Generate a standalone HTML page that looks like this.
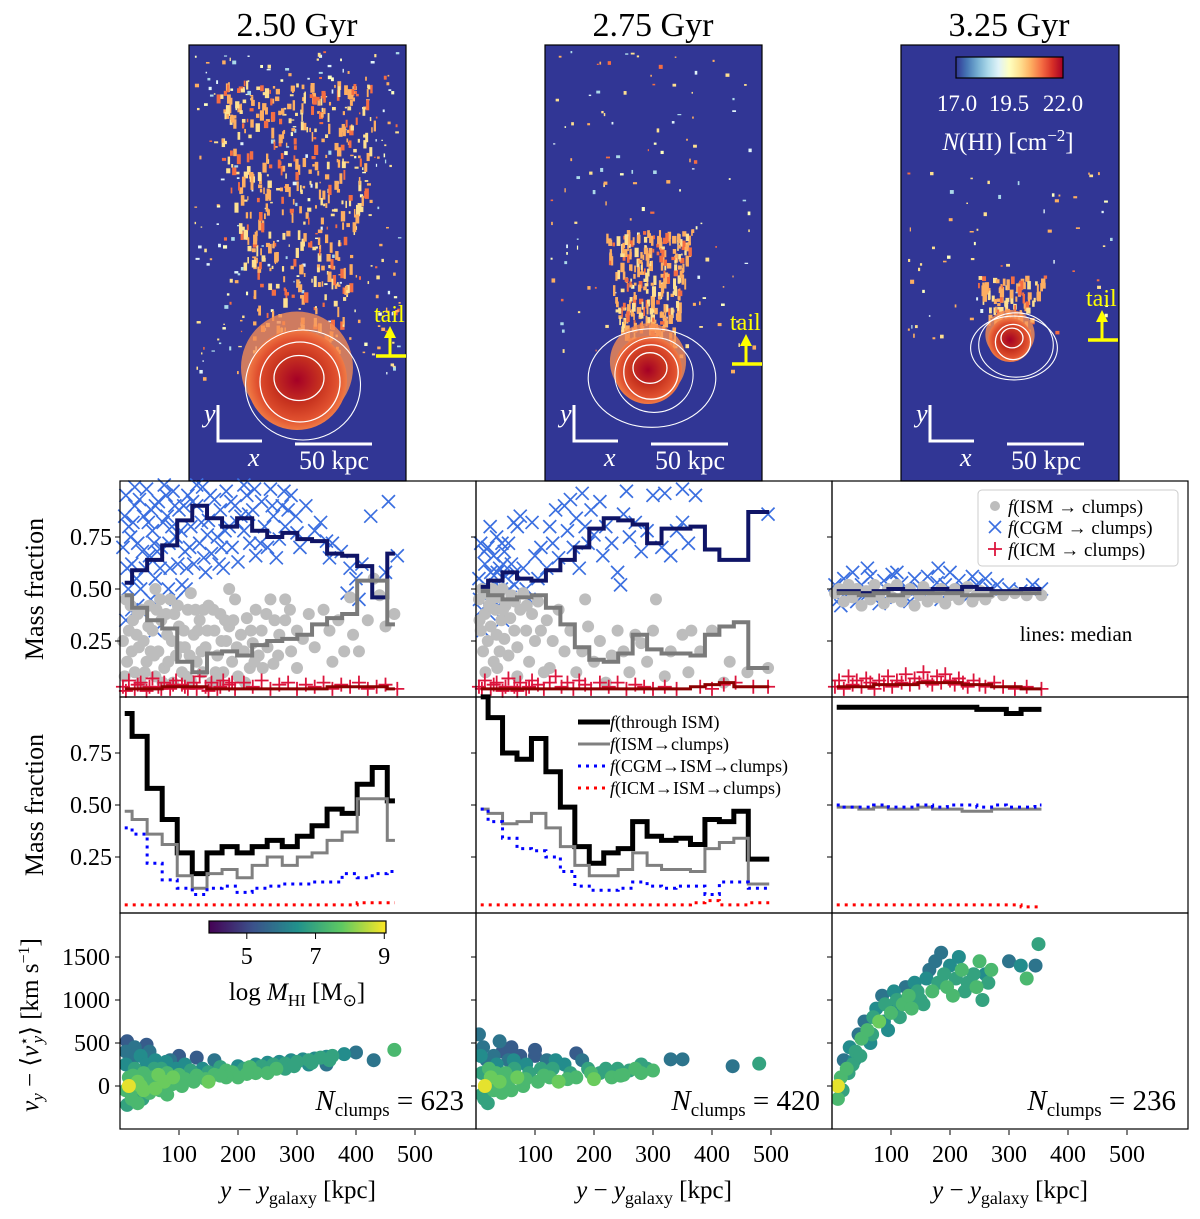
<!DOCTYPE html>
<html><head><meta charset="utf-8">
<style>
html,body{margin:0;padding:0;background:#fff;}
svg text{font-family:"Liberation Serif",serif;}
</style></head>
<body>
<svg id="fig" width="1200" height="1214" viewBox="0 0 1200 1214" xmlns="http://www.w3.org/2000/svg">
<defs>
<linearGradient id="rdylbu" x1="0" x2="1" y1="0" y2="0">
<stop offset="0" stop-color="#313695"/><stop offset="0.1" stop-color="#4575b4"/><stop offset="0.2" stop-color="#74add1"/><stop offset="0.3" stop-color="#abd9e9"/><stop offset="0.4" stop-color="#e0f3f8"/><stop offset="0.5" stop-color="#ffffbf"/><stop offset="0.6" stop-color="#fee090"/><stop offset="0.7" stop-color="#fdae61"/><stop offset="0.8" stop-color="#f46d43"/><stop offset="0.9" stop-color="#d73027"/><stop offset="1" stop-color="#a50026"/>
</linearGradient>
<linearGradient id="viridis" x1="0" x2="1" y1="0" y2="0">
<stop offset="0" stop-color="#440154"/><stop offset="0.25" stop-color="#3b528b"/><stop offset="0.5" stop-color="#21918c"/><stop offset="0.75" stop-color="#5ec962"/><stop offset="1" stop-color="#fde725"/>
</linearGradient>
<radialGradient id="disk">
<stop offset="0" stop-color="#a50026"/><stop offset="0.5" stop-color="#c8341f"/><stop offset="0.8" stop-color="#e0502f"/><stop offset="1" stop-color="#f07a45"/>
</radialGradient>
<clipPath id="clip0"><rect x="189" y="45" width="217" height="436"/></clipPath>
<clipPath id="clip1"><rect x="545" y="45" width="217" height="436"/></clipPath>
<clipPath id="clip2"><rect x="901" y="45" width="218" height="436"/></clipPath>
</defs>
</svg>
<script>
// ---------- DATA ----------
const binsC1 = [8,33,59,84,110,135,160,186,211,237,262,288,313,338,364,389,415,440,466];
const binsC2 = [8,33,57,82,106,131,155,180,204,229,253,278,302,327,351,376,400,425,449,474,497];
const binsC3 = [8,33,58,83,108,133,158,183,208,233,258,283,308,333,355];

const medCGM1 = [0.53,0.59,0.64,0.71,0.83,0.90,0.84,0.80,0.84,0.78,0.75,0.77,0.74,0.73,0.67,0.66,0.61,0.46,0.67];
const medISM1 = [0.47,0.41,0.35,0.31,0.15,0.10,0.19,0.20,0.18,0.23,0.25,0.26,0.28,0.33,0.36,0.38,0.54,0.54,0.33];
const medICM1 = [0.02,0.02,0.02,0.03,0.03,0.03,0.02,0.02,0.02,0.02,0.02,0.02,0.02,0.02,0.03,0.03,0.03,0.03,0.02];
const medCGM2 = [0.51,0.54,0.58,0.55,0.54,0.59,0.64,0.70,0.79,0.84,0.83,0.81,0.72,0.79,0.79,0.80,0.69,0.64,0.64,0.87,0.87];
const medISM2 = [0.49,0.47,0.45,0.46,0.47,0.41,0.33,0.22,0.16,0.15,0.19,0.28,0.21,0.19,0.19,0.18,0.28,0.32,0.34,0.12,0.12];
const medICM2 = [0.02,0.02,0.02,0.02,0.02,0.02,0.02,0.02,0.02,0.02,0.02,0.02,0.02,0.02,0.02,0.03,0.04,0.05,0.03,0.03,0.03];
const medCGM3 = [0.49,0.49,0.48,0.49,0.50,0.49,0.49,0.50,0.49,0.51,0.50,0.49,0.49,0.50,0.50];
const medISM3 = [0.48,0.48,0.47,0.48,0.47,0.48,0.48,0.48,0.48,0.47,0.47,0.48,0.48,0.48,0.48];
const medICM3 = [0.03,0.03,0.03,0.04,0.04,0.04,0.05,0.05,0.05,0.04,0.04,0.03,0.03,0.02,0.02];

const thru1 = [0.94,0.83,0.58,0.43,0.27,0.17,0.27,0.30,0.27,0.30,0.33,0.30,0.35,0.40,0.48,0.46,0.60,0.68,0.52];
const ism1  = [0.47,0.43,0.36,0.31,0.16,0.10,0.17,0.19,0.15,0.21,0.25,0.21,0.25,0.27,0.33,0.37,0.53,0.53,0.33];
const cgm1  = [0.39,0.36,0.22,0.14,0.10,0.07,0.10,0.11,0.08,0.10,0.11,0.12,0.12,0.13,0.13,0.17,0.15,0.17,0.18];
const icm1  = [0.02,0.02,0.02,0.02,0.02,0.02,0.02,0.02,0.02,0.02,0.02,0.02,0.02,0.02,0.02,0.02,0.03,0.03,0.03];
const thru2 = [1.02,0.92,0.75,0.72,0.82,0.66,0.49,0.30,0.22,0.27,0.29,0.42,0.35,0.33,0.34,0.31,0.43,0.42,0.47,0.24,0.24];
const ism2  = [0.48,0.46,0.41,0.42,0.46,0.39,0.30,0.21,0.16,0.16,0.19,0.27,0.21,0.19,0.19,0.18,0.29,0.32,0.34,0.12,0.12];
const cgm2  = [0.48,0.42,0.34,0.29,0.28,0.25,0.18,0.11,0.09,0.09,0.10,0.13,0.11,0.10,0.11,0.11,0.07,0.13,0.13,0.10,0.10];
const icm2  = [0.02,0.02,0.02,0.02,0.02,0.02,0.02,0.02,0.02,0.02,0.02,0.02,0.02,0.02,0.02,0.03,0.04,0.02,0.02,0.03,0.03];
const thru3 = [0.97,0.97,0.97,0.97,0.97,0.97,0.97,0.97,0.97,0.97,0.96,0.96,0.94,0.96,0.96];
const ism3  = [0.49,0.49,0.48,0.49,0.48,0.48,0.49,0.48,0.48,0.47,0.47,0.48,0.48,0.48,0.48];
const cgm3  = [0.50,0.49,0.49,0.50,0.49,0.49,0.50,0.49,0.50,0.50,0.49,0.50,0.49,0.49,0.50];
const icm3  = [0.02,0.02,0.02,0.02,0.02,0.02,0.02,0.02,0.02,0.02,0.02,0.02,0.02,0.01,0.01];

const ptsCGM1 = [[10,0.95],[15,0.8],[20,0.62],[25,0.9],[30,0.72],[35,0.5],[40,0.85],[45,0.98],[50,0.66],[55,0.78],[60,0.55],[65,0.92],[70,0.7],[75,0.45],[80,0.85],[85,0.6],[90,0.97],[95,0.75],[100,0.88],[105,0.52],[110,0.68],[115,0.95],[120,0.8],[125,0.62],[130,0.9],[135,0.72],[140,0.99],[145,0.58],[150,0.83],[155,0.67],[160,0.93],[165,0.75],[170,0.88],[175,0.6],[180,0.97],[185,0.8],[190,0.7],[195,0.9],[200,0.63],[205,0.85],[210,0.78],[215,0.95],[220,0.72],[225,0.88],[230,0.66],[240,0.92],[245,0.8],[250,0.7],[255,0.98],[260,0.85],[270,0.74],[275,0.9],[280,0.8],[290,0.95],[300,0.77],[305,0.7],[315,0.9],[330,0.78],[340,0.82],[350,0.73],[355,0.65],[360,0.72],[375,0.68],[390,0.6],[400,0.55],[385,0.48],[405,0.45],[410,0.62],[450,0.58],[470,0.66],[455,0.92],[425,0.85],[20,0.4],[40,0.38],[60,0.3],[10,0.35],[30,0.42],[95,0.45],[60,0.9],[25,0.99],[75,1.0],[130,1.0],[210,1.0],[12,0.6],[18,0.75],[28,0.55],[38,0.68],[48,0.82],[58,0.72],[68,0.6],[78,0.95],[88,0.8],[98,0.62],[108,0.9],[118,0.7],[148,0.76],[168,0.62],[188,0.92],[228,0.98],[265,0.65],[285,0.88],[5,0.7],[8,0.85],[14,0.5],[22,0.82],[33,0.93],[43,0.6],[53,0.88],[63,0.68],[73,0.82],[83,0.72],[93,0.9],[103,0.78],[113,0.6],[123,0.92],[138,0.82],[153,0.95],[178,0.78],[198,0.82],[218,0.86],[238,0.72],[258,0.9],[278,0.97],[298,0.85],[52,0.45],[82,0.5],[112,0.5],[142,0.65],[172,0.7]];
const ptsISM1 = [[10,0.45],[15,0.3],[20,0.2],[25,0.1],[30,0.38],[35,0.05],[40,0.25],[45,0.15],[50,0.42],[55,0.3],[60,0.08],[65,0.2],[70,0.35],[75,0.12],[80,0.28],[85,0.45],[90,0.05],[95,0.18],[100,0.32],[105,0.1],[110,0.22],[115,0.4],[120,0.06],[125,0.28],[130,0.15],[135,0.35],[140,0.1],[145,0.22],[150,0.42],[155,0.05],[160,0.3],[165,0.18],[170,0.38],[175,0.1],[180,0.25],[185,0.32],[190,0.15],[195,0.45],[200,0.08],[205,0.28],[210,0.2],[215,0.36],[220,0.12],[225,0.24],[230,0.4],[235,0.18],[240,0.3],[250,0.22],[255,0.45],[260,0.14],[270,0.28],[280,0.35],[290,0.2],[300,0.3],[310,0.26],[320,0.38],[330,0.22],[345,0.4],[355,0.3],[370,0.35],[380,0.2],[390,0.46],[395,0.28],[420,0.35],[430,0.55],[440,0.47],[450,0.32],[465,0.38],[185,0.5],[120,0.48],[60,0.5],[280,0.45],[12,0.15],[22,0.35],[32,0.22],[42,0.1],[52,0.2],[62,0.4],[72,0.05],[82,0.15],[92,0.38],[102,0.22],[112,0.08],[132,0.3],[142,0.4],[162,0.1],[172,0.25],[192,0.35],[212,0.05],[222,0.3],[242,0.12],[262,0.35],[300,0.12],[405,0.2],[360,0.15],[5,0.25],[8,0.08],[18,0.42],[28,0.28],[38,0.4],[48,0.32],[58,0.18],[68,0.45],[78,0.38],[88,0.25],[98,0.42],[108,0.3],[118,0.18],[128,0.4],[138,0.2],[148,0.3],[158,0.4],[168,0.05],[178,0.35],[198,0.22],[228,0.15],[248,0.38],[268,0.18],[288,0.4]];
const ptsICM1 = [[5,0.03],[15,0.06],[25,0.02],[35,0.05],[45,0.01],[55,0.07],[65,0.03],[75,0.05],[85,0.02],[95,0.06],[105,0.04],[115,0.02],[125,0.05],[135,0.08],[145,0.03],[155,0.05],[165,0.02],[175,0.06],[185,0.04],[195,0.02],[210,0.05],[225,0.03],[240,0.06],[255,0.02],[270,0.04],[285,0.05],[300,0.02],[315,0.04],[330,0.03],[345,0.05],[360,0.02],[375,0.04],[390,0.03],[405,0.05],[420,0.02],[435,0.03],[450,0.04],[470,0.02],[10,0.01],[30,0.04],[50,0.03],[70,0.02],[90,0.04],[110,0.03],[130,0.02],[150,0.01],[170,0.03],[190,0.05]];
const ptsCGM2 = [[5,0.55],[10,0.4],[12,0.3],[15,0.62],[18,0.48],[20,0.7],[22,0.38],[25,0.58],[28,0.45],[30,0.66],[33,0.52],[35,0.75],[38,0.42],[40,0.6],[43,0.5],[45,0.35],[48,0.68],[50,0.56],[55,0.72],[58,0.46],[60,0.62],[65,0.52],[70,0.8],[75,0.85],[80,0.6],[85,0.5],[90,0.45],[95,0.82],[100,0.66],[105,0.55],[110,0.7],[120,0.6],[125,0.8],[130,0.72],[135,0.88],[140,0.65],[150,0.9],[155,0.78],[160,0.93],[165,0.7],[170,0.84],[175,0.6],[180,0.96],[185,0.8],[190,0.72],[195,0.88],[200,0.76],[210,0.92],[215,0.66],[220,0.8],[230,0.72],[240,0.58],[245,0.52],[250,0.86],[255,0.97],[260,0.75],[270,0.82],[280,0.68],[290,0.78],[300,0.95],[315,0.7],[330,0.66],[340,0.78],[350,0.82],[360,0.72],[8,0.72],[14,0.68],[24,0.8],[44,0.72],[64,0.82],[350,0.98],[320,0.96],[372,0.95],[495,0.86],[6,0.45],[16,0.52],[26,0.48],[36,0.58],[46,0.62],[56,0.5],[66,0.58]];
const ptsISM2 = [[5,0.45],[8,0.3],[10,0.5],[12,0.2],[15,0.38],[18,0.48],[20,0.25],[22,0.42],[25,0.32],[28,0.5],[30,0.15],[33,0.4],[35,0.28],[38,0.46],[40,0.2],[43,0.35],[45,0.5],[48,0.26],[50,0.42],[55,0.18],[58,0.36],[60,0.47],[65,0.3],[70,0.22],[75,0.4],[80,0.48],[85,0.3],[90,0.15],[95,0.38],[100,0.25],[105,0.44],[110,0.3],[120,0.35],[125,0.12],[130,0.25],[140,0.4],[150,0.2],[160,0.3],[170,0.1],[180,0.2],[190,0.32],[200,0.15],[210,0.25],[220,0.05],[230,0.18],[240,0.3],[250,0.2],[260,0.1],[270,0.28],[280,0.24],[290,0.15],[300,0.3],[320,0.08],[330,0.2],[350,0.28],[360,0.1],[380,0.2],[400,0.3],[420,0.05],[430,0.15],[460,0.1],[495,0.12],[70,0.08],[115,0.1],[185,0.45],[305,0.45],[365,0.3],[6,0.35],[16,0.1],[26,0.45],[36,0.12],[46,0.4],[66,0.44],[86,0.42]];
const ptsICM2 = [[5,0.03],[15,0.06],[25,0.02],[35,0.05],[45,0.01],[55,0.07],[65,0.03],[75,0.05],[85,0.02],[95,0.06],[105,0.04],[115,0.02],[125,0.05],[135,0.08],[145,0.03],[155,0.05],[165,0.02],[175,0.06],[185,0.04],[195,0.02],[210,0.05],[225,0.03],[240,0.05],[255,0.02],[270,0.04],[285,0.03],[300,0.02],[320,0.03],[340,0.02],[380,0.03],[400,0.02],[420,0.04],[440,0.05],[470,0.03],[495,0.03],[10,0.02],[30,0.04],[50,0.03],[70,0.01],[90,0.03]];
const ptsCGM3 = [[5,0.52],[12,0.45],[20,0.55],[28,0.48],[35,0.58],[42,0.44],[50,0.52],[58,0.47],[65,0.56],[72,0.5],[80,0.43],[88,0.54],[95,0.49],[102,0.57],[110,0.46],[118,0.53],[125,0.5],[132,0.44],[140,0.55],[148,0.5],[155,0.47],[162,0.56],[170,0.49],[178,0.53],[185,0.45],[192,0.52],[200,0.58],[208,0.48],[215,0.54],[222,0.5],[230,0.46],[238,0.56],[245,0.52],[252,0.48],[260,0.55],[268,0.5],[280,0.52],[300,0.5],[320,0.49],[340,0.52],[355,0.5],[15,0.42],[60,0.6],[110,0.58],[180,0.6]];
const ptsISM3 = [[5,0.48],[12,0.5],[20,0.44],[28,0.52],[35,0.46],[42,0.5],[50,0.42],[58,0.49],[65,0.45],[72,0.52],[80,0.47],[88,0.43],[95,0.5],[102,0.46],[110,0.52],[118,0.44],[125,0.48],[132,0.5],[140,0.42],[148,0.47],[155,0.51],[162,0.44],[170,0.48],[178,0.46],[185,0.5],[192,0.43],[200,0.47],[208,0.5],[215,0.45],[222,0.48],[230,0.51],[238,0.44],[245,0.47],[252,0.49],[260,0.45],[268,0.48],[290,0.47],[310,0.48],[330,0.47],[355,0.47]];
const ptsICM3 = [[5,0.03],[12,0.06],[20,0.02],[28,0.08],[35,0.04],[42,0.06],[50,0.03],[58,0.07],[65,0.05],[72,0.02],[80,0.06],[88,0.04],[95,0.08],[102,0.03],[110,0.06],[118,0.05],[125,0.09],[132,0.04],[140,0.07],[148,0.05],[155,0.1],[162,0.06],[170,0.04],[178,0.08],[185,0.05],[192,0.09],[200,0.06],[208,0.04],[215,0.07],[222,0.05],[230,0.03],[240,0.06],[250,0.04],[260,0.03],[275,0.05],[290,0.03],[310,0.02],[330,0.03],[355,0.02]];

const vel1 = [[15,100,7.5],[15,0,9],[20,300,6],[20,-150,7.5],[25,450,6],[25,200,7],[30,50,8],[30,-100,7],[35,350,6.5],[40,150,7.5],[40,-50,8],[45,250,6.5],[50,400,6],[55,100,7.5],[60,-30,8],[60,300,6.5],[70,200,7],[75,50,8],[80,150,7.5],[90,100,8],[95,200,6.5],[100,130,7.5],[110,80,7.5],[120,180,7],[130,120,7.5],[140,200,6.5],[150,160,7],[160,130,7.5],[170,220,7],[180,180,7.5],[190,160,7.5],[200,230,6.5],[210,200,7],[220,220,7.5],[230,250,6.5],[240,230,7],[250,270,6.5],[260,250,7],[270,280,6.5],[280,260,7],[290,300,6.5],[300,280,7],[310,310,6.5],[320,300,7],[330,320,6.5],[340,330,7],[350,340,6.5],[360,350,7],[380,370,6.5],[400,390,6],[430,300,6],[465,420,7.5],[100,350,5.5],[130,330,5.5],[200,100,7.5],[250,150,7.5],[45,480,5.5],[12,520,5.5],[30,-200,7.5],[80,-100,7.5],[150,50,8],[350,250,6],[160,300,6],[10,250,6.5],[10,-50,7.5],[12,-220,7],[35,0,8],[50,-80,7.5],[65,130,8],[85,300,6],[110,250,6.5],[180,100,7.5],[230,150,7.5],[280,200,7],[320,250,6.5],[10,400,6],[18,-80,7.5],[22,120,7.5],[28,380,6],[38,-150,7],[48,30,7.5],[58,200,7],[68,-50,7.5],[78,280,6.5],[88,20,7.5],[105,0,7.5],[125,50,7.5],[145,80,7.5],[170,120,7.5],[195,150,7],[215,140,7.5],[245,190,7],[265,200,7.5],[295,230,7],[325,270,7],[355,300,7]];
const vel2 = [[10,150,7],[10,-100,7],[12,450,6],[15,0,9],[18,300,6],[20,-200,7],[22,200,7.5],[25,100,8],[30,350,6],[30,-50,7.5],[35,250,6.5],[40,50,8],[45,400,5.5],[50,150,7.5],[55,300,6],[60,-50,7.5],[65,200,7],[70,100,8],[75,350,5.5],[80,0,7.5],[85,250,6.5],[90,150,7],[100,350,5.5],[105,50,7.5],[110,200,7],[120,300,6],[125,100,7.5],[130,200,7],[140,50,8],[150,250,6.5],[160,150,7],[170,100,7.5],[180,300,6],[190,200,7],[200,80,8],[210,150,7],[220,200,7],[230,100,7.5],[240,200,7],[250,130,7.5],[260,180,7],[270,200,7.5],[280,250,7],[290,200,7],[300,180,7.5],[330,310,6],[350,310,6],[435,230,6],[480,260,7],[40,520,6],[60,450,5.5],[100,420,5.5],[170,380,5.5],[280,150,7.5],[5,600,6],[8,350,6.5],[14,-150,7],[24,0,7.5],[34,150,7.5],[44,-80,7.5],[54,50,7.5],[64,300,6.5],[84,80,7.5],[115,120,7.5],[135,300,6.5],[155,80,7.5],[195,150,7.5],[245,120,7.5]];
const vel3 = [[10,0,9],[10,-150,7.5],[15,100,7.5],[20,300,6],[25,200,7.5],[30,450,6.5],[40,400,7],[45,600,6],[50,550,7.5],[55,750,6],[60,650,7.5],[70,800,7],[75,900,6.5],[80,750,8],[85,1050,6],[90,950,7],[100,850,7.5],[105,1100,6.5],[110,1000,7],[120,950,7.5],[125,1150,6],[130,1050,7.5],[140,1200,6.5],[145,1100,7],[150,1000,7],[160,1250,6.5],[165,1350,6],[170,1100,7.5],[175,1450,6],[180,1200,7],[185,1550,6],[190,1300,7],[195,1150,7.5],[200,1400,6.5],[210,1250,7],[215,1500,6.5],[220,1350,7.5],[230,1200,7],[240,1300,7],[250,1450,7.5],[260,1300,6.5],[265,1200,7],[270,1350,7.5],[300,1450,6],[320,1400,6.5],[330,1250,7.5],[345,1400,6],[350,1650,7],[35,250,7],[65,500,6.5],[95,650,6.5],[115,800,7],[135,900,7.5],[155,950,7],[205,1050,7.5],[225,1100,7],[245,1150,7.5],[255,1000,7],[18,-50,7],[28,150,7],[38,300,6.5],[48,350,7],[68,600,7],[88,750,6.5],[108,900,6.5],[128,1000,7]];

// ---------- RENDER ----------
const svg = document.getElementById('fig');
const NS = 'http://www.w3.org/2000/svg';
function mk(tag, attrs, parent) {
  const e = document.createElementNS(NS, tag);
  for (const k in attrs) e.setAttribute(k, attrs[k]);
  (parent || svg).appendChild(e);
  return e;
}
function txt(x, y, s, size, attrs, parent) {
  const t = mk('text', Object.assign({x: x, y: y, 'font-size': size}, attrs || {}), parent);
  t.innerHTML = s;
  return t;
}
const colX0 = [120, 476, 832];
const colW = 356;
const kpcPx = 0.59;
function xScale(c, kpc) { return colX0[c] + kpc * kpcPx; }
function yFrac(row, v) { return (row === 0 ? 693 : 909) - v * 208; }
function yVel(v) { return 1086 - v * 0.086; }
const rowTop = [481, 697, 913];
const rowH = 216;

// ----- TOP IMAGES -----
let seed = 12345;
function rnd() { seed = (seed * 1103515245 + 12345) % 2147483648; return seed / 2147483648; }
const imgX = [189, 545, 901];
const speckCols = ['#fee090','#fdae61','#ffffbf','#e0f3f8','#fdae61','#abd9e9','#fee090','#f46d43'];
const titles = ['2.50 Gyr', '2.75 Gyr', '3.25 Gyr'];
const diskC = [[297, 380, 50], [648, 370, 34], [1010, 340, 22]];
const tailTop = [80, 230, 275];
const tailSpread = [85, 45, 35];
const speckTop = [50, 50, 170];
const nSpeck = [330, 130, 60];
for (let c = 0; c < 3; c++) {
  const g = mk('g', {'clip-path': 'url(#clip' + c + ')'});
  
  
  mk('rect', {x: imgX[c], y: 45, width: c === 2 ? 218 : 217, height: 436, fill: '#313695'}, g);
  const [cx, cy, r] = diskC[c];
  for (let i = 0; i < nSpeck[c]; i++) {
    const x = imgX[c] + 5 + rnd() * 205;
    const y = speckTop[c] + rnd() * (cy - speckTop[c]);
    const w = 1.2 + rnd() * 3, h = 1.2 + rnd() * 3;
    mk('rect', {x: x, y: y, width: w, height: h, fill: speckCols[Math.floor(rnd() * speckCols.length)]}, g);
  }
  const nT = [420, 320, 140][c];
  for (let i = 0; i < nT; i++) {
    const t = Math.pow(rnd(), 0.7);
    const y = cy - t * (cy - tailTop[c]);
    const spread = tailSpread[c] * (0.45 + 0.55 * t);
    const x = cx + (rnd() - 0.5) * 2 * spread;
    mk('rect', {x: x, y: y, width: 1.5 + rnd() * 3, height: 3 + rnd() * 8, fill: ['#fdae61','#fee090','#f46d43','#fdae61'][Math.floor(rnd() * 4)]}, g);
  }
  mk('circle', {cx: cx, cy: cy - r * 0.25, r: r * 1.12, fill: '#f68d52', opacity: 0.8}, g);
  mk('circle', {cx: cx, cy: cy, r: r, fill: 'url(#disk)'}, g);
  mk('ellipse', {cx: cx + 2, cy: cy - 2, rx: r * 0.5, ry: r * 0.45, fill: 'none', stroke: '#fff', 'stroke-width': 1.3}, g);
  mk('ellipse', {cx: cx + 3, cy: cy + 2, rx: r * 0.8, ry: r * 0.8, fill: 'none', stroke: '#fff', 'stroke-width': 1.3}, g);
  mk('ellipse', {cx: cx + 6, cy: cy + 5, rx: r * 1.15 + (c === 2 ? 12 : 0), ry: r * 1.1 + (c === 2 ? 8 : 0), fill: 'none', stroke: '#fff', 'stroke-width': 1.1}, g);
  if (c > 0) mk('ellipse', {cx: cx + 4, cy: cy + 8, rx: r * 1.7 + 6, ry: r * 1.45, fill: 'none', stroke: '#fff', 'stroke-width': 1.1}, g);
  const fr = mk('rect', {x: imgX[c], y: 45, width: c === 2 ? 218 : 217, height: 436, fill: 'none', stroke: '#000', 'stroke-width': 1.2});
  
  
  const tt = txt(imgX[c] + 108, 36, titles[c], 34, {'text-anchor': 'middle'});
  
  
  const ox = imgX[c] + 29;
  mk('path', {d: `M${ox} 405 V441 H${ox + 44}`, fill: 'none', stroke: '#fff', 'stroke-width': 3});
  txt(ox - 14, 422, 'y', 26, {fill: '#fff', 'font-style': 'italic'});
  txt(ox + 30, 466, 'x', 26, {fill: '#fff', 'font-style': 'italic'});
  mk('line', {x1: imgX[c] + 106, x2: imgX[c] + 183, y1: 444, y2: 444, stroke: '#fff', 'stroke-width': 3});
  const sb = txt(imgX[c] + 145, 469, '50 kpc', 26, {fill: '#fff', 'text-anchor': 'middle'});
  
  
  const ay = [356, 364, 340][c];
  const ax = imgX[c] + 201;
  mk('line', {x1: ax - 14, x2: ax + 16, y1: ay, y2: ay, stroke: '#ffff00', 'stroke-width': 3.5});
  mk('line', {x1: ax, x2: ax, y1: ay, y2: ay - 22, stroke: '#ffff00', 'stroke-width': 3});
  mk('path', {d: `M${ax - 6} ${ay - 18} L${ax} ${ay - 30} L${ax + 6} ${ay - 18} Z`, fill: '#ffff00'});
  const tl = txt(ax - 16, ay - 34, 'tail', 24, {fill: '#ffff00'});
  
  
}
const cb = mk('rect', {x: 956, y: 57, width: 107, height: 21, fill: 'url(#rdylbu)', stroke: '#000', 'stroke-width': 1.2});


txt(957, 111, '17.0', 23, {fill: '#fff', 'text-anchor': 'middle'});
txt(1009, 111, '19.5', 23, {fill: '#fff', 'text-anchor': 'middle'});
txt(1063, 111, '22.0', 23, {fill: '#fff', 'text-anchor': 'middle'});
const cbl = txt(1008, 150, '<tspan font-style="italic">N</tspan>(HI) [cm<tspan dy="-9" font-size="17">−2</tspan><tspan dy="9">]</tspan>', 25, {fill: '#fff', 'text-anchor': 'middle'});



// ----- PANEL GRID -----
function step(c, row, xs, vs, style) {
  let d = '';
  for (let i = 0; i < xs.length; i++) {
    const px = xScale(c, xs[i]);
    const py = yFrac(row, vs[i]);
    if (i === 0) d += `M${px} ${py}`;
    else {
      const mid = (xScale(c, xs[i - 1]) + px) / 2;
      d += ` H${mid} V${py}`;
    }
    if (i === xs.length - 1) d += ` H${px}`;
  }
  return mk('path', Object.assign({d: d, fill: 'none', 'stroke-linejoin': 'miter'}, style));
}
function cross(c, row, pts, name) {
  const g = mk('g', {stroke: '#3b6fe0', 'stroke-width': 1.7});
  
  
  for (const p of pts) {
    const x = xScale(c, p[0]), y = yFrac(row, p[1]);
    mk('path', {d: `M${x - 6.5} ${y - 6.5} L${x + 6.5} ${y + 6.5} M${x - 6.5} ${y + 6.5} L${x + 6.5} ${y - 6.5}`}, g);
  }
}
function dots(c, row, pts, name) {
  const g = mk('g', {fill: '#bdbdbd'});
  
  
  for (const p of pts) mk('circle', {cx: xScale(c, p[0]), cy: yFrac(row, p[1]), r: 6}, g);
}
function plus(c, row, pts, name) {
  const g = mk('g', {stroke: '#dc143c', 'stroke-width': 1.8});
  
  
  for (const p of pts) {
    const x = xScale(c, p[0]), y = yFrac(row, p[1]);
    mk('path', {d: `M${x - 7} ${y} H${x + 7} M${x} ${y - 7} V${y + 7}`}, g);
  }
}
const binsAll = [binsC1, binsC2, binsC3];
const rowA = [[ptsCGM1, ptsISM1, ptsICM1, medCGM1, medISM1, medICM1], [ptsCGM2, ptsISM2, ptsICM2, medCGM2, medISM2, medICM2], [ptsCGM3, ptsISM3, ptsICM3, medCGM3, medISM3, medICM3]];
const rowB = [[thru1, ism1, cgm1, icm1], [thru2, ism2, cgm2, icm2], [thru3, ism3, cgm3, icm3]];
const velAll = [vel1, vel2, vel3];
const nClumps = ['623', '420', '236'];
function viridis(m) {
  const stops = [[68,1,84],[59,82,139],[33,145,140],[94,201,98],[253,231,37]];
  let t = Math.max(0, Math.min(1, (m - 4) / 5.2)) * 4;
  const i = Math.min(3, Math.floor(t)), f = t - i;
  const a = stops[i], b = stops[i + 1];
  return `rgb(${Math.round(a[0] + (b[0] - a[0]) * f)},${Math.round(a[1] + (b[1] - a[1]) * f)},${Math.round(a[2] + (b[2] - a[2]) * f)})`;
}
for (let c = 0; c < 3; c++) {
  const b = binsAll[c];
  const [pc, pi, pm, mc, mi, mm] = rowA[c];
  const clip = mk('clipPath', {id: 'pc' + c});
  mk('rect', {x: colX0[c], y: 481, width: colW, height: 649}, clip);
  cross(c, 0, pc, 'cgm-clump-points-' + (c + 1));
  dots(c, 0, pi, 'ism-clump-points-' + (c + 1));
  plus(c, 0, pm, 'icm-clump-points-' + (c + 1));
  let l = step(c, 0, b, mc, {stroke: '#0f1466', 'stroke-width': 4});
  
  
  l = step(c, 0, b, mi, {stroke: '#7a7a7a', 'stroke-width': 4});
  
  
  l = step(c, 0, b, mm, {stroke: '#8b0000', 'stroke-width': 3});
  
  
  const [th, is, cg, ic] = rowB[c];
  l = step(c, 1, b, th, {stroke: '#000', 'stroke-width': 5, 'clip-path': 'url(#pc' + c + ')'});
  
  
  l = step(c, 1, b, is, {stroke: '#808080', 'stroke-width': 3});
  
  
  l = step(c, 1, b, cg, {stroke: '#0000ff', 'stroke-width': 3, 'stroke-dasharray': '3 5'});
  
  
  l = step(c, 1, b, ic, {stroke: '#ff0000', 'stroke-width': 3, 'stroke-dasharray': '3 5'});
  
  
  const g = mk('g', {'clip-path': 'url(#pc' + c + ')'});
  
  
  const sorted = velAll[c].slice().sort((p, q) => p[2] - q[2]);
  for (const p of sorted) {
    mk('circle', {cx: xScale(c, p[0]), cy: yVel(p[1]), r: 7, fill: viridis(p[2])}, g);
  }
  const nl = txt(colX0[c] + 344, 1110, '<tspan font-style="italic">N</tspan><tspan font-size="19" dy="6">clumps</tspan><tspan dy="-6"> = ' + nClumps[c] + '</tspan>', 29, {'text-anchor': 'end'});
  
  
  for (let r = 0; r < 3; r++) {
    const fr = mk('rect', {x: colX0[c], y: rowTop[r], width: colW, height: rowH, fill: 'none', stroke: '#000', 'stroke-width': 1.2});
    
    
  }
  const ft = [0.25, 0.5, 0.75];
  for (const r of [0, 1]) for (const v of ft) mk('line', {x1: colX0[c] - 5, x2: colX0[c], y1: yFrac(r, v), y2: yFrac(r, v), stroke: '#000', 'stroke-width': 1});
  for (const v of [0, 500, 1000, 1500]) mk('line', {x1: colX0[c] - 5, x2: colX0[c], y1: yVel(v), y2: yVel(v), stroke: '#000', 'stroke-width': 1});
  for (const k of [100, 200, 300, 400, 500]) {
    mk('line', {x1: xScale(c, k), x2: xScale(c, k), y1: 1130, y2: 1135, stroke: '#000', 'stroke-width': 1});
    const tl = txt(xScale(c, k), 1162, String(k), 24, {'text-anchor': 'middle'});
    
    
  }
  const xl = txt(colX0[c] + 178, 1198, '<tspan font-style="italic">y</tspan> − <tspan font-style="italic">y</tspan><tspan font-size="18" dy="6">galaxy</tspan><tspan dy="-6"> [kpc]</tspan>', 25, {'text-anchor': 'middle'});
  
  
}
const fracTicks = ['0.25', '0.50', '0.75'];
const fracVals = [0.25, 0.5, 0.75];
for (const r of [0, 1]) fracVals.forEach((v, i) => {
  const t = txt(112, yFrac(r, v) + 8, fracTicks[i], 24, {'text-anchor': 'end'});
  
  
});
const velTicks = [0, 500, 1000, 1500];
velTicks.forEach(v => {
  const t = txt(110, yVel(v) + 8, String(v), 24, {'text-anchor': 'end'});
  
  
});
let yt = txt(0, 0, 'Mass fraction', 26, {'text-anchor': 'middle', transform: 'translate(43,589) rotate(-90)'});


yt = txt(0, 0, 'Mass fraction', 26, {'text-anchor': 'middle', transform: 'translate(43,805) rotate(-90)'});


yt = txt(0, 0, '<tspan font-style="italic">v</tspan><tspan font-size="17" dy="5" font-style="italic">y</tspan><tspan dy="-5"> − ⟨</tspan><tspan font-style="italic">v</tspan><tspan font-size="15" dy="-9">⋆</tspan><tspan font-size="17" dy="14" dx="-7" font-style="italic">y</tspan><tspan dy="-5">⟩ [km s</tspan><tspan font-size="16" dy="-9">−1</tspan><tspan dy="9">]</tspan>', 25, {'text-anchor': 'middle', transform: 'translate(38,1025) rotate(-90)'});



const lg = mk('g', {});


mk('rect', {x: 978, y: 490, width: 200, height: 76, rx: 4, fill: '#fff', stroke: '#ccc'}, lg);
mk('circle', {cx: 995, cy: 506, r: 5, fill: '#bdbdbd'}, lg);
txt(1008, 513, '<tspan font-style="italic">f</tspan>(ISM → clumps)', 19, {}, lg);
mk('path', {d: 'M989 521 L1001 533 M989 533 L1001 521', stroke: '#3b6fe0', 'stroke-width': 1.6}, lg);
txt(1008, 534, '<tspan font-style="italic">f</tspan>(CGM → clumps)', 19, {}, lg);
mk('path', {d: 'M988 549 H1002 M995 542 V556', stroke: '#dc143c', 'stroke-width': 1.8}, lg);
txt(1008, 556, '<tspan font-style="italic">f</tspan>(ICM → clumps)', 19, {}, lg);
const med = txt(1076, 641, 'lines: median', 21, {'text-anchor': 'middle'});



const lg2 = mk('g', {});


const legY = [722, 744, 766, 788];
const legLbl = ['<tspan font-style="italic">f</tspan>(through ISM)', '<tspan font-style="italic">f</tspan>(ISM→clumps)', '<tspan font-style="italic">f</tspan>(CGM→ISM→clumps)', '<tspan font-style="italic">f</tspan>(ICM→ISM→clumps)'];
const legSt = [{stroke: '#000', 'stroke-width': 5}, {stroke: '#808080', 'stroke-width': 3}, {stroke: '#0000ff', 'stroke-width': 3, 'stroke-dasharray': '3 5'}, {stroke: '#ff0000', 'stroke-width': 3, 'stroke-dasharray': '3 5'}];
legY.forEach((y, i) => {
  mk('line', Object.assign({x1: 578, x2: 610, y1: y, y2: y}, legSt[i]), lg2);
  txt(610, y + 6, legLbl[i], 18, {}, lg2);
});

const vc = mk('rect', {x: 209, y: 921, width: 177, height: 12, fill: 'url(#viridis)', stroke: '#000', 'stroke-width': 1.2});


const cbTicks = [5, 7, 9];
cbTicks.forEach(v => {
  const x = 209 + (v - 3.9) / (9.05 - 3.9) * 177;
  mk('line', {x1: x, x2: x, y1: 933, y2: 939, stroke: '#000'});
  txt(x, 964, String(v), 24, {'text-anchor': 'middle'});
});
const vcl = txt(297, 1000, 'log <tspan font-style="italic">M</tspan><tspan font-size="17" dy="6">HI</tspan><tspan dy="-6"> [M</tspan><tspan font-size="17" dy="6">⊙</tspan><tspan dy="-6">]</tspan>', 25, {'text-anchor': 'middle'});


</script>
</body></html>
